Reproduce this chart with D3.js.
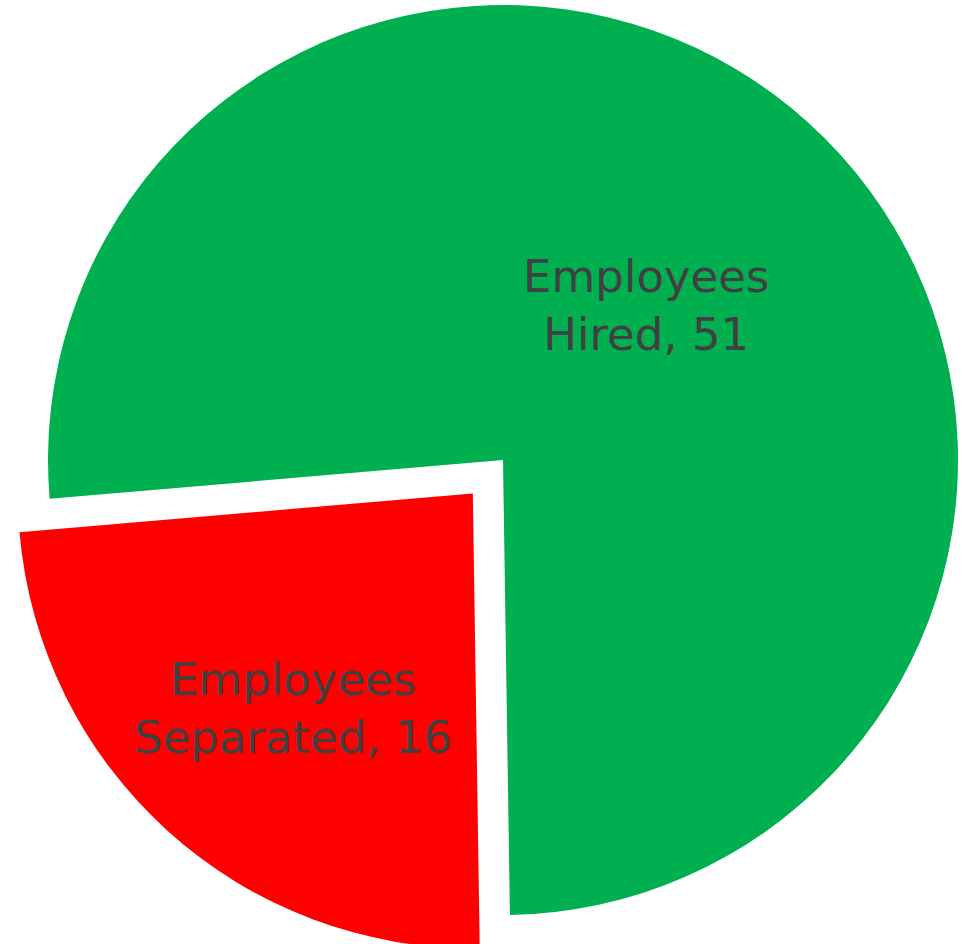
<!DOCTYPE html>
<html>
<head>
<meta charset="utf-8">
<script src="https://cdn.jsdelivr.net/npm/d3@7"></script>
<style>
  html, body { margin: 0; padding: 0; background: #fff; }
  svg { display: block; }
</style>
</head>
<body>
<div id="chart"></div>
<script>
// pie data
var categories = ["Employees Hired", "Employees Separated"];
var labelLines = [["Employees", "Hired, 51"], ["Employees", "Separated, 16"]];
var values = [51, 16];
var colors = ["#00B050", "#FF0000"];

var width = 962, height = 944;
var cx = 503, cy = 460, radius = 455;
var explode = [0, 45];      // pull-out distance per slice
var labelRadius = [212, 279];
var labelShift = [0.4, -2]; // degrees, nudges label around the slice

var svg = d3.select("#chart").append("svg")
  .attr("width", width).attr("height", height);

var g = svg.append("g").attr("transform", "translate(" + cx + "," + cy + ")");

var startDeg = -94.9;
var pie = d3.pie().sort(null)
  .startAngle(startDeg * Math.PI / 180)
  .endAngle((startDeg + 360) * Math.PI / 180);

var arcs = pie(values);
var arc = d3.arc().innerRadius(0).outerRadius(radius);

function offset(d, i) {
  var mid = (d.startAngle + d.endAngle) / 2;
  return [Math.sin(mid) * explode[i], -Math.cos(mid) * explode[i]];
}

var slices = g.selectAll("g.slice").data(arcs).enter().append("g")
  .attr("class", "slice")
  .attr("transform", function(d, i) { var o = offset(d, i); return "translate(" + o[0] + "," + o[1] + ")"; });

slices.append("path")
  .attr("d", arc)
  .attr("fill", function(d, i) { return colors[i]; });

slices.each(function(d, i) {
  var mid = (d.startAngle + d.endAngle) / 2 + labelShift[i] * Math.PI / 180;
  var c = [Math.sin(mid) * labelRadius[i], -Math.cos(mid) * labelRadius[i]];
  var t = d3.select(this).append("text")
    .attr("text-anchor", "middle")
    .attr("font-family", "'Century Gothic', 'URW Gothic', 'DejaVu Sans', sans-serif")
    .attr("font-size", 45)
    .attr("fill", "#404040");
  t.append("tspan").attr("x", c[0]).attr("y", c[1] - 12).text(labelLines[i][0]);
  t.append("tspan").attr("x", c[0]).attr("y", c[1] + 46).text(labelLines[i][1]);
});
</script>
</body>
</html>
